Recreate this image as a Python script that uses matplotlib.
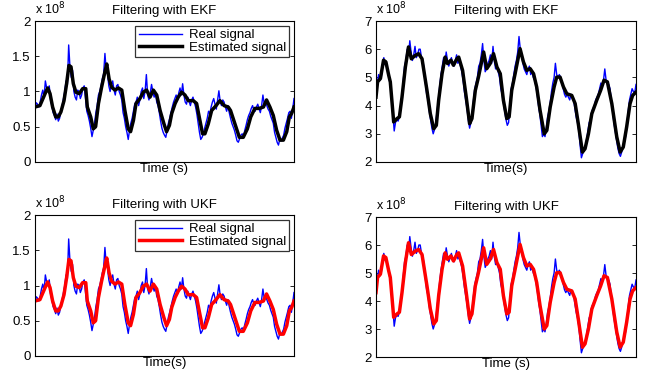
import numpy as np
import matplotlib
matplotlib.use("Agg")
import matplotlib.pyplot as plt

plt.rcParams['font.family'] = ['Liberation Sans', 'DejaVu Sans']

# ---- data (values in units of 1e8) ----
# Left dataset: real (measured) signal, evenly sampled over the time window
real_a = [0.76, 0.84, 0.82, 0.78, 0.85, 0.95, 1.02, 0.92, 1.15, 1.05,
          1.00, 1.08, 0.88, 0.80, 0.70, 0.66, 0.60, 0.68, 0.58, 0.62,
          0.72, 0.80, 0.90, 1.00, 1.15, 1.10, 1.66, 1.35, 1.20, 1.30,
          1.00, 0.92, 0.88, 1.02, 1.00, 0.90, 0.95, 1.05, 1.08, 0.90,
          0.72, 0.66, 0.58, 0.48, 0.36, 0.45, 0.55, 0.70, 0.80, 0.95,
          1.00, 1.08, 1.18, 1.25, 1.54, 1.30, 1.25, 1.08, 1.00, 1.10,
          1.15, 1.02, 0.95, 1.08, 1.10, 1.00, 0.95, 0.88, 0.70, 0.62,
          0.50, 0.42, 0.32, 0.45, 0.55, 0.62, 0.72, 0.82, 0.85, 0.92,
          0.80, 0.88, 1.00, 1.05, 0.90, 1.00, 1.24, 0.95, 0.88, 0.98,
          1.10, 1.00, 0.92, 0.98, 0.85, 0.80, 0.70, 0.58, 0.48, 0.42,
          0.38, 0.35, 0.45, 0.55, 0.62, 0.70, 0.78, 0.85, 0.90, 0.95,
          0.88, 0.98, 1.05, 0.95, 1.11, 0.95, 0.85, 0.82, 0.92, 0.86,
          0.80, 0.88, 0.92, 0.85, 0.78, 0.68, 0.55, 0.42, 0.32, 0.35,
          0.40, 0.48, 0.55, 0.62, 0.72, 0.68, 0.78, 0.85, 0.90, 0.82,
          0.75, 0.88, 1.01, 0.86, 0.80, 0.88, 0.85, 0.78, 0.72, 0.80,
          0.70, 0.62, 0.55, 0.50, 0.45, 0.38, 0.30, 0.28, 0.33, 0.38,
          0.40, 0.36, 0.45, 0.52, 0.60, 0.66, 0.70, 0.76, 0.80, 0.74,
          0.72, 0.78, 0.82, 0.76, 0.70, 0.80, 0.95, 0.82, 0.85, 0.80,
          0.75, 0.72, 0.65, 0.60, 0.55, 0.42, 0.35, 0.28, 0.24, 0.32,
          0.30, 0.34, 0.38, 0.48, 0.55, 0.62, 0.70, 0.72, 0.62, 0.75,
          0.90]
t_est_a = [0, 1.9, 3.9, 4.9, 5.8, 6.8, 8.0, 9.0, 10.0, 11.2, 12.2, 13.1, 13.9,
           14.8, 15.8, 17.1, 18.4, 19.6, 20.2, 21.5, 22.5, 23.4, 24.5, 25.7,
           27.0, 27.7, 28.6, 29.6, 30.9, 32.2, 33.5, 34.7, 36.0, 36.9, 38.0,
           39.0, 40.5, 41.8, 43.1, 44.4, 45.7, 47.0, 48.3, 49.8, 50.8, 51.9,
           52.8, 54.1, 55.3, 56.6, 57.9, 59.2, 61.1, 62.4, 63.4, 64.7, 65.6,
           66.9, 68.2, 69.9, 71.4, 73.0, 74.6, 75.5, 77.2, 78.9, 80.4, 82.0,
           83.3, 84.9, 86.6, 88.2, 89.4, 90.7, 92.0, 93.3, 94.6, 95.9, 97.2,
           98.2, 99.1, 100]
est_a = [0.78, 0.80, 0.97, 1.05, 0.97, 0.78, 0.64, 0.64, 0.71, 0.87, 1.11, 1.37,
         1.35, 1.11, 0.99, 0.97, 1.04, 1.04, 0.78, 0.64, 0.47, 0.50, 0.83, 1.06,
         1.28, 1.39, 1.18, 1.06, 1.02, 1.05, 1.02, 0.73, 0.47, 0.43, 0.59, 0.83,
         0.90, 0.99, 1.02, 0.92, 1.02, 0.95, 0.73, 0.54, 0.43, 0.52, 0.69, 0.83,
         0.92, 0.99, 0.95, 0.87, 0.87, 0.83, 0.64, 0.40, 0.40, 0.54, 0.73, 0.80,
         0.87, 0.80, 0.78, 0.73, 0.54, 0.35, 0.35, 0.47, 0.64, 0.76, 0.76, 0.78,
         0.88, 0.78, 0.66, 0.45, 0.31, 0.31, 0.43, 0.64, 0.69, 0.78]

# Right dataset
real_b = [4.40, 4.80, 5.10, 4.90, 5.00, 5.40, 5.70, 5.45, 5.50, 5.20,
          5.00, 4.70, 4.40, 3.70, 3.10, 3.40, 3.50, 3.45, 3.60, 3.90,
          4.30, 4.90, 5.40, 5.60, 6.00, 5.80, 6.30, 5.90, 5.60, 5.80,
          6.10, 5.70, 5.80, 6.00, 6.00, 5.70, 5.60, 5.30, 4.80, 4.40,
          4.20, 3.80, 3.50, 3.20, 3.00, 3.15, 3.40, 3.80, 4.20, 4.70,
          5.10, 5.40, 5.70, 5.50, 5.90, 5.60, 5.40, 5.55, 5.70, 5.50,
          5.40, 5.60, 5.80, 5.50, 5.60, 5.40, 5.20, 4.90, 4.50, 4.20,
          3.90, 3.50, 3.20, 3.40, 3.70, 4.20, 4.60, 4.80, 5.00, 5.40,
          5.50, 5.80, 6.20, 5.60, 5.20, 5.30, 5.50, 5.60, 5.80, 5.50,
          6.10, 5.60, 5.30, 5.40, 5.20, 5.00, 4.60, 4.40, 4.10, 3.80,
          3.50, 3.30, 3.40, 4.00, 4.60, 4.80, 5.10, 5.40, 5.60, 5.90,
          6.45, 6.00, 5.80, 5.50, 5.30, 5.20, 5.10, 5.30, 5.40, 5.10,
          5.20, 5.00, 4.90, 4.70, 4.40, 4.00, 3.70, 3.30, 2.90, 3.00,
          2.90, 3.20, 3.60, 3.80, 4.10, 4.50, 4.80, 5.00, 5.50, 5.10,
          5.00, 5.10, 5.00, 4.80, 4.60, 4.40, 4.30, 4.40, 4.30, 4.20,
          4.40, 4.30, 4.20, 3.90, 3.60, 3.40, 3.10, 2.60, 2.15, 2.30,
          2.40, 2.50, 2.80, 3.10, 3.40, 3.50, 3.80, 3.90, 4.00, 4.20,
          4.30, 4.40, 4.60, 4.80, 4.70, 4.90, 5.30, 4.90, 4.80, 4.75,
          4.60, 4.20, 3.80, 3.40, 3.10, 2.80, 2.50, 2.30, 2.20, 2.35,
          2.60, 2.70, 2.90, 3.30, 3.80, 4.20, 4.40, 4.60, 4.50, 4.45,
          4.75]
t_est_b = [0, 0.6, 1.7, 2.9, 3.8, 4.9, 5.5, 6.8, 8.1, 9.0, 10.0, 11.3, 12.5,
           13.6, 15.1, 16.4, 17.7, 19.6, 20.9, 22.2, 23.2, 24.1, 25.4, 26.6,
           27.5, 28.8, 29.8, 31.1, 31.8, 33.3, 34.7, 36.0, 36.9, 38.2, 39.4,
           41.4, 42.6, 43.9, 45.2, 46.5, 47.8, 49.0, 50.3, 51.2, 52.2, 53.5,
           55.4, 56.7, 58.0, 59.3, 60.6, 61.8, 63.1, 64.7, 65.7, 67.0, 68.5,
           69.5, 70.8, 72.1, 73.4, 75.3, 76.6, 77.8, 79.4, 80.4, 81.7, 83.0,
           84.9, 86.4, 87.7, 89.0, 90.7, 92.6, 93.9, 95.1, 96.4, 97.7, 98.7, 100]
est_b = [4.30, 4.84, 4.96, 5.61, 5.55, 5.07, 4.84, 3.42, 3.54, 3.60, 4.30, 5.37,
         6.08, 5.66, 5.78, 5.84, 5.66, 4.54, 3.71, 3.18, 3.30, 4.19, 5.13, 5.72,
         5.49, 5.61, 5.43, 5.66, 5.72, 5.25, 4.30, 3.36, 3.54, 4.54, 5.01, 5.90,
         5.31, 5.49, 5.84, 5.37, 5.13, 4.19, 3.54, 3.60, 4.54, 5.13, 6.02, 5.55,
         5.25, 5.31, 5.13, 4.66, 3.83, 3.00, 3.12, 3.95, 4.66, 5.01, 5.01, 4.66,
         4.42, 4.36, 4.07, 3.36, 2.35, 2.47, 3.00, 3.71, 4.19, 4.54, 4.90, 4.84,
         4.07, 2.89, 2.35, 2.53, 3.24, 4.07, 4.36, 4.48]

titles = ["Filtering with EKF", "Filtering with EKF", "Filtering with UKF", "Filtering with UKF"]
xlabels = ["Time (s)", "Time(s)", "Time(s)", "Time (s)"]
ylims = [(0, 2), (2, 7), (0, 2), (2, 7)]
yticks = [[0, 0.5, 1, 1.5, 2], [2, 3, 4, 5, 6, 7], [0, 0.5, 1, 1.5, 2], [2, 3, 4, 5, 6, 7]]
yticklabels = [["0", "0.5", "1", "1.5", "2"], ["2", "3", "4", "5", "6", "7"],
               ["0", "0.5", "1", "1.5", "2"], ["2", "3", "4", "5", "6", "7"]]
est_colors = ["black", "black", "red", "red"]

W, H = 651, 375
fig = plt.figure(figsize=(W / 100, H / 100), dpi=100)
boxes = [(35, 21, 294, 162), (376, 21, 636, 162), (35, 215, 294, 356), (376, 217, 636, 357)]
FS = 9.5

for i, (x0, y0, x1, y1) in enumerate(boxes):
    ax = fig.add_axes([x0 / W, 1 - y1 / H, (x1 - x0) / W, (y1 - y0) / H])
    if i % 2 == 0:
        real, te, est = real_a, t_est_a, est_a
    else:
        real, te, est = real_b, t_est_b, est_b
    t_real = np.linspace(0, 100, len(real))
    ax.plot(t_real, real, color=(0, 0, 1), lw=1.0, label="Real signal")
    ax.plot(te, est, color=est_colors[i], lw=2.5, label="Estimated signal")
    ax.set_xlim(0, 100)
    ax.set_ylim(*ylims[i])
    ax.set_xticks([])
    ax.set_yticks(yticks[i])
    ax.set_yticklabels(yticklabels[i], fontsize=FS)
    ax.tick_params(axis='y', direction='in', length=3, width=0.6, right=True, pad=3)
    for s in ax.spines.values():
        s.set_linewidth(0.8)
    ax.set_title(titles[i], fontsize=FS, pad=5)
    ax.set_xlabel(xlabels[i], fontsize=FS, labelpad=1)
    ax.text(0.0, 1.025, r"x 10$^8$", transform=ax.transAxes, fontsize=9,
            ha='left', va='bottom')
    if i in (0, 2):
        leg = ax.legend(loc='upper right', fontsize=FS, frameon=True, fancybox=False,
                        edgecolor='black', borderpad=0.25, handlelength=3.3,
                        handletextpad=0.5, labelspacing=0.05, borderaxespad=0.35)
        leg.get_frame().set_linewidth(0.9)

fig.savefig("out.png", dpi=100)
